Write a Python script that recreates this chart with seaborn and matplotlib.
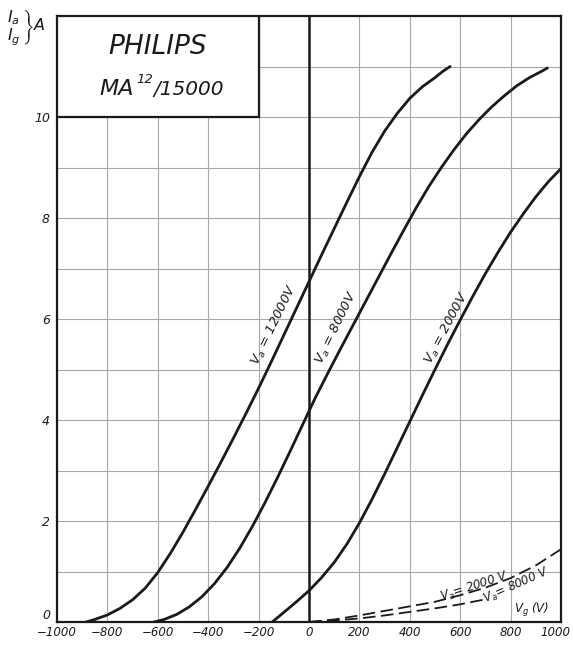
import matplotlib
matplotlib.use("Agg")
import matplotlib.pyplot as plt
import matplotlib.transforms as mtransforms
import seaborn as sns
from matplotlib.patches import Rectangle

# anode current curves (solid), Vg in V, Ia in A
vg_12000 = [-885, -850, -800, -750, -700, -650, -600, -550, -500, -450, -400, -350, -300,
            -250, -200, -150, -100, -50, 0, 50, 100, 150, 200, 250, 300, 350, 400,
            450, 500, 530, 560]
ia_12000 = [0, 0.05, 0.14, 0.27, 0.44, 0.67, 0.98, 1.36, 1.78, 2.23, 2.69, 3.16, 3.64,
            4.13, 4.63, 5.15, 5.68, 6.21, 6.74, 7.27, 7.79, 8.31, 8.82, 9.3, 9.72, 10.07, 10.37,
            10.6, 10.78, 10.9, 11.0]

vg_8000 = [-615, -575, -525, -475, -425, -375, -325, -275, -225, -175, -125, -75, -25,
           25, 75, 125, 175, 225, 275, 325, 375, 425, 475, 525, 575, 625, 675, 725,
           775, 825, 875, 925, 946]
ia_8000 = [0, 0.05, 0.15, 0.3, 0.5, 0.76, 1.08, 1.46, 1.89, 2.36, 2.86, 3.38, 3.91,
           4.44, 4.93, 5.41, 5.88, 6.35, 6.82, 7.29, 7.75, 8.2, 8.62, 9.0, 9.35, 9.67, 9.95, 10.2,
           10.42, 10.62, 10.78, 10.91, 10.97]

vg_2000 = [-146, -100, -50, 0, 50, 100, 150, 200, 250, 300, 350, 400, 450, 500, 550,
           600, 650, 700, 750, 800, 850, 900, 950, 1000]
ia_2000 = [0, 0.19, 0.4, 0.62, 0.88, 1.18, 1.54, 1.96, 2.43, 2.93, 3.45, 3.97, 4.49, 5.0, 5.5,
           5.98, 6.45, 6.9, 7.32, 7.72, 8.08, 8.42, 8.72, 8.98]

# grid current curves (dashed)
vg_g2000 = [0, 100, 200, 300, 400, 500, 600, 700, 800, 900, 1000]
ig_g2000 = [0, 0.05, 0.13, 0.22, 0.31, 0.4, 0.53, 0.68, 0.87, 1.12, 1.44]
vg_g8000 = [0, 100, 200, 300, 400, 500, 600, 700]
ig_g8000 = [0, 0.03, 0.07, 0.13, 0.2, 0.27, 0.35, 0.45]

x_ticks = [-1000, -800, -600, -400, -200, 0, 200, 400, 600, 800, 1000]
y_ticks = [0, 2, 4, 6, 8, 10]
y_minor = [1, 3, 5, 7, 9, 11]

sns.set_theme(style="white")
plt.rcParams["font.family"] = ["DejaVu Sans"]
plt.rcParams["font.style"] = "italic"
plt.rcParams["mathtext.fontset"] = "dejavusans"

W, H = 573, 645
fig = plt.figure(figsize=(W / 100, H / 100), dpi=100)
ax = fig.add_axes([57 / W, 23 / H, 504 / W, 606 / H])

ink = "#1a1a1a"
sns.lineplot(x=vg_12000, y=ia_12000, ax=ax, color=ink, lw=2.0, sort=False, zorder=4)
sns.lineplot(x=vg_8000, y=ia_8000, ax=ax, color=ink, lw=2.0, sort=False, zorder=4)
sns.lineplot(x=vg_2000, y=ia_2000, ax=ax, color=ink, lw=2.0, sort=False, zorder=4)
sns.lineplot(x=vg_g2000, y=ig_g2000, ax=ax, color=ink, lw=1.3, sort=False, zorder=4,
             linestyle=(0, (7, 3)))
sns.lineplot(x=vg_g8000, y=ig_g8000, ax=ax, color=ink, lw=1.3, sort=False, zorder=4,
             linestyle=(0, (7, 3)))

ax.set_xlim(-1000, 1000)
ax.set_ylim(0, 12)
ax.set_xticks(x_ticks)
ax.set_yticks(y_ticks)
ax.set_yticks(y_minor, minor=True)
ax.grid(True, which="both", color="#a8a8a8", lw=0.8, zorder=0)
ax.set_axisbelow(True)
ax.tick_params(axis="both", which="both", length=0, colors=ink)
ax.tick_params(axis="x", pad=3, labelsize=8.5)
ax.tick_params(axis="y", pad=5, labelsize=9)
for s in ax.spines.values():
    s.set_color(ink)
    s.set_linewidth(1.6)

# "0" on the y axis sits just above the x axis; last x label nudged inside
ax.get_yticklabels()[0].set_va("bottom")
xl = ax.get_xticklabels()[-1]
xl.set_transform(xl.get_transform() + mtransforms.ScaledTranslation(-4 / 72, 0, fig.dpi_scale_trans))

# thick line at Vg = 0
ax.axvline(0, color=ink, lw=1.8, zorder=3)

# title box
ax.add_patch(Rectangle((-1000, 10), 800, 2, facecolor="white", edgecolor=ink,
                       lw=1.6, zorder=3))
ax.text(-600, 11.38, "PHILIPS", ha="center", va="center", fontsize=19, color=ink, zorder=5)
ax.text(-830, 10.55, "MA", ha="left", va="center", fontsize=16, color=ink, zorder=5)
ax.text(-685, 10.74, "12", ha="left", va="center", fontsize=9.5, color=ink, zorder=5)
ax.text(-618, 10.55, "/15000", ha="left", va="center", fontsize=14.5, color=ink, zorder=5)

# curve labels
ax.text(-135, 5.88, r"$V_a$ = 12000V", rotation=64, ha="center", va="center",
        fontsize=9.5, color=ink, zorder=5)
ax.text(111, 5.82, r"$V_a$ = 8000V", rotation=64, ha="center", va="center",
        fontsize=9.5, color=ink, zorder=5)
ax.text(548, 5.82, r"$V_a$ = 2000V", rotation=62, ha="center", va="center",
        fontsize=9.5, color=ink, zorder=5)
ax.text(659, 0.7, r"$V_a$= 2000 V", rotation=18, ha="center", va="center",
        fontsize=8.5, color=ink, zorder=5)
ax.text(825, 0.72, r"$V_a$= 8000 V", rotation=24, ha="center", va="center",
        fontsize=8.5, color=ink, zorder=5)
ax.text(885, 0.24, r"$V_g$ (V)", ha="center", va="center", fontsize=8.5, color=ink, zorder=5)

# axis unit label at top left: Ia, Ig with brace and A
fig.text(7 / W, 1 - 28 / H, r"$\left.\genfrac{}{}{0}{0}{I_a}{I_g}\right\}A$",
         ha="left", va="center", fontsize=11.5, color=ink)

fig.savefig("out.png", dpi=100, facecolor="white")
